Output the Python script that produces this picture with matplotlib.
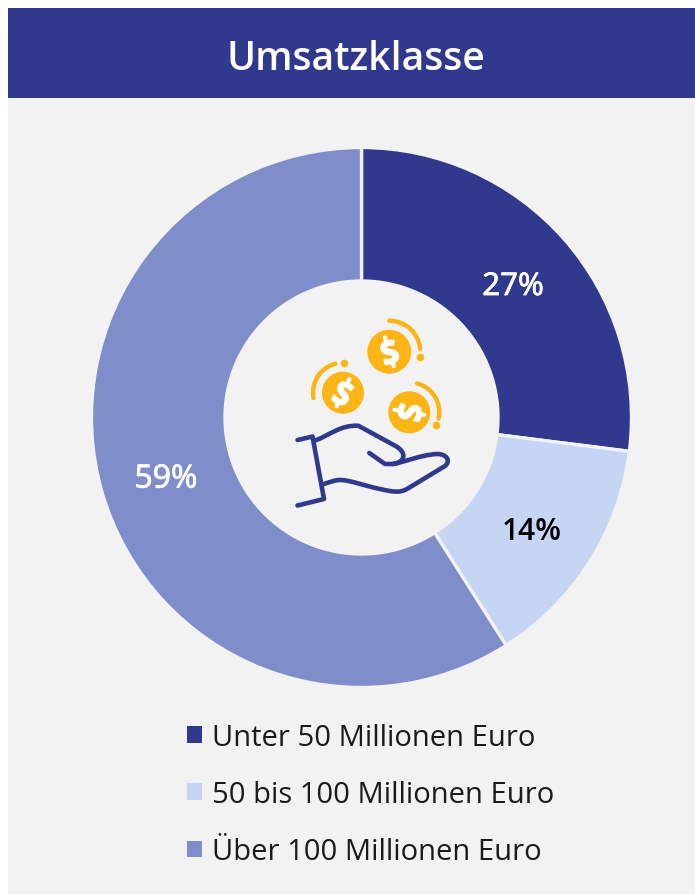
import numpy as np
import matplotlib.pyplot as plt
import matplotlib.patheffects as pe
from matplotlib.patches import Rectangle, Circle, Arc, PathPatch
from matplotlib.path import Path

plt.rcParams['font.family'] = ['Open Sans', 'DejaVu Sans']

title = "Umsatzklasse"
categories = ["Unter 50 Millionen Euro", "50 bis 100 Millionen Euro", "Über 100 Millionen Euro"]
shares = [27, 14, 59]
colors = ["#30398D", "#C5D5F3", "#7F8DCB"]
label_colors = ["white", "black", "white"]
label_weights = ["normal", "semibold", "normal"]
label_sizes = [22.5, 21.5, 23]

W, H = 695, 895
NAVY = "#30398D"
GOLD = "#FDB515"


def fy(y):
    # picture y (from top) to axes y (from bottom)
    return H - y


fig = plt.figure(figsize=(W / 100, H / 100), dpi=100, facecolor="white")
ax = fig.add_axes([0, 0, 1, 1])

wedges, _ = ax.pie(shares, colors=colors, startangle=90, counterclock=False,
                   center=(361.5, fy(418.5)), radius=270,
                   wedgeprops=dict(width=133.5, edgecolor="#F2F2F2", linewidth=2.4, zorder=3))
ax.set_xlim(0, W)
ax.set_ylim(0, H)
ax.set_aspect("equal")
ax.axis("off")

# background panel and header
ax.add_patch(Rectangle((8, 0), W - 8, fy(98.5), fc="#F2F2F2", ec="none", zorder=0))
ax.add_patch(Rectangle((8, fy(98.5)), W - 8, 89.5, fc=NAVY, ec="none", zorder=1))
ax.text(356, fy(60), title, color="white", fontsize=28.2, fontweight="semibold",
        ha="center", va="center", zorder=4)

# percent labels
label_pos = [(513, 288), (531.5, 532), (166, 480)]
for (x, y), s, c, w, fs in zip(label_pos, shares, label_colors, label_weights, label_sizes):
    txt = ax.text(x, fy(y), f"{s}%", color=c, fontweight=w, fontsize=fs,
                  ha="center", va="center", zorder=5)
    if w == "normal":
        txt.set_path_effects([pe.withStroke(linewidth=0.6, foreground=c)])

# coins in the middle
coins = [(389.3, 352.7, 22, 31, 5, 90, -10, 17),
         (343.0, 393.7, 21, 30, 105, 190, 88, -25),
         (409.3, 413.3, 21, 30, -12, 75, -25, 80)]
for cx, cy, r, ra, a0, a1, dot, rot in coins:
    ax.add_patch(Circle((cx, fy(cy)), r, fc=GOLD, ec="none", zorder=5))
    ax.add_patch(Arc((cx, fy(cy)), 2 * ra, 2 * ra, theta1=a0, theta2=a1, ec=GOLD,
                     lw=3.2, capstyle="round", zorder=5))
    ax.plot(cx + ra * np.cos(np.radians(dot)), fy(cy) + ra * np.sin(np.radians(dot)),
            "o", ms=5.5, color=GOLD, mew=0, zorder=5)
    ax.text(cx, fy(cy), "S", color="white", fontsize=22, fontweight="bold", rotation=rot,
            rotation_mode="anchor", ha="center", va="center_baseline", zorder=6,
            path_effects=[pe.withStroke(linewidth=1.6, foreground="white")])
    t = np.radians(rot + 90)
    for sgn in (1, -1):
        ax.plot([cx + sgn * 12 * np.cos(t), cx + sgn * 15 * np.cos(t)],
                [fy(cy) + sgn * 12 * np.sin(t), fy(cy) + sgn * 15 * np.sin(t)],
                color="white", lw=3, solid_capstyle="round", zorder=6)


# hand icon, points
def hand(points, codes):
    verts = [(x, fy(y)) for x, y in points]
    ax.add_patch(PathPatch(Path(verts, codes), fc="none", ec=NAVY, lw=3.3,
                           capstyle="round", joinstyle="round", zorder=5))


M, L, C = Path.MOVETO, Path.LINETO, Path.CURVE4
hand([(297.5, 441), (312.5, 437.5), (324, 500), (297.5, 506.5)], [M, L, L, L])
hand([(315, 441.6), (330, 436), (340, 426), (358.3, 426.7), (395, 446.7), (407, 453), (406, 463), (393, 465),
      (385, 465), (369.3, 454)], [M, C, C, C, L, C, C, C, L, L])
hand([(393, 465), (405, 463), (420, 456), (437, 455), (447, 455), (451, 462), (445, 467), (407, 490),
      (400, 494), (393, 493), (380, 490), (365, 487), (350, 481), (340, 481), (335, 481), (330, 483), (324, 485)],
     [M, C, C, C, C, C, C, L, C, C, C, C, C, C, C, C, C])

# legend
handles = [Rectangle((0, 0), 1, 1, fc=c, ec="none") for c in colors]
leg = ax.legend(handles, categories, loc="center left", bbox_to_anchor=(187 / W, fy(795.5) / H),
                frameon=False, fontsize=21, handlelength=0.5, handleheight=0.5,
                handletextpad=0.35, labelspacing=0.97, borderpad=0, borderaxespad=0,
                labelcolor="#1a1a1a")

fig.savefig("out.png", dpi=100, facecolor=fig.get_facecolor())
plt.close(fig)
